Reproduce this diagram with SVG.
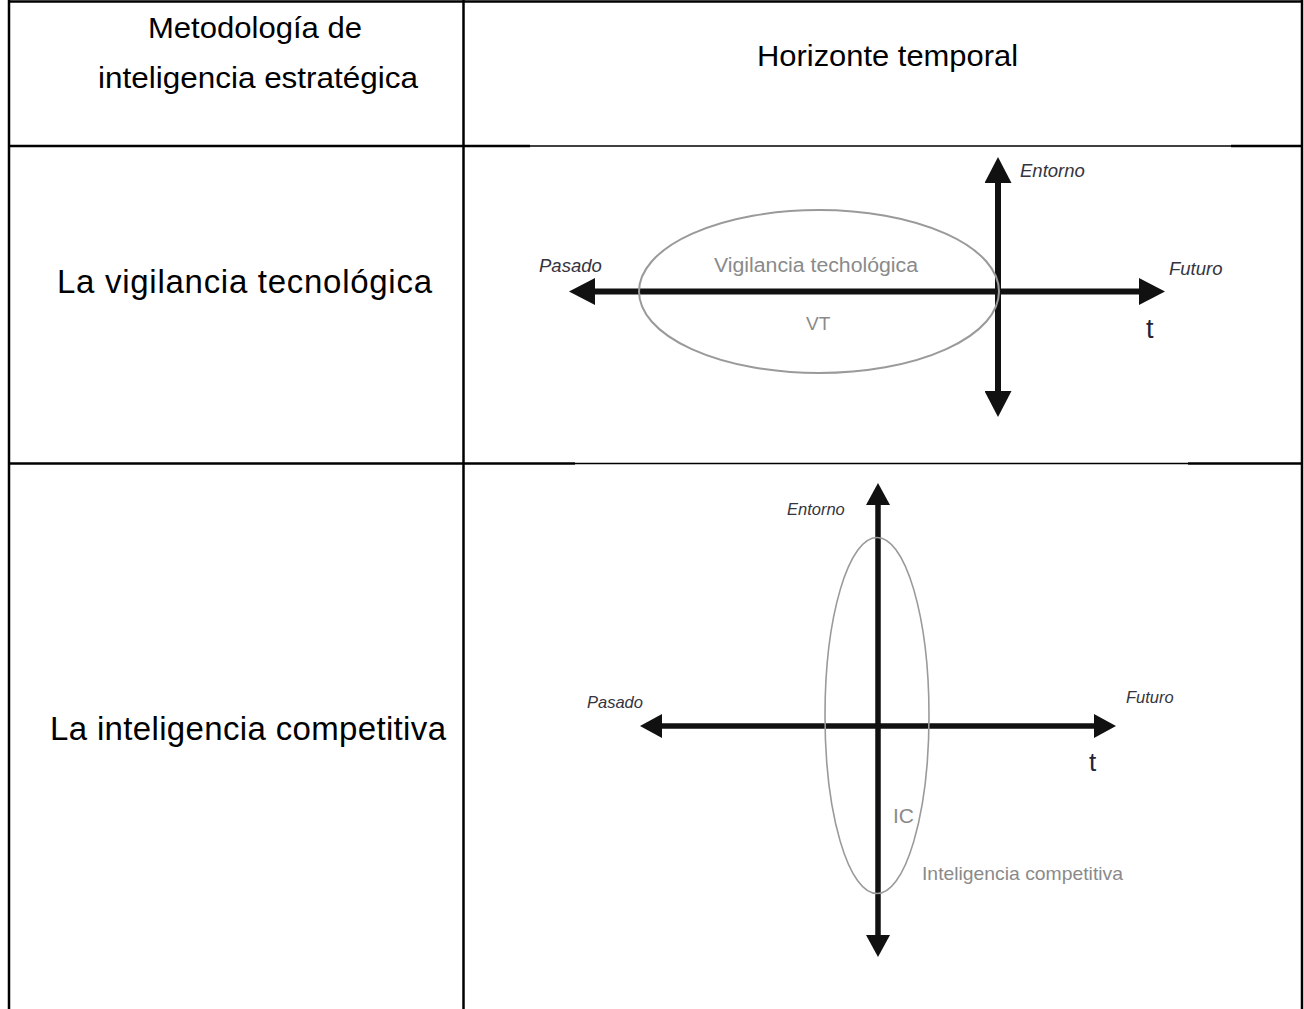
<svg xmlns="http://www.w3.org/2000/svg" width="1304" height="1009" viewBox="0 0 1304 1009">
  <style>
    .cell { font-family: "Liberation Sans", Arial, sans-serif; fill: #000; }
    .hdr { font-size: 30px; }
    .row { font-size: 33px; }
    .axislbl { font-family: "Liberation Sans", Arial, sans-serif; font-style: italic; fill: #34343e; }
    .zone { font-family: "Liberation Sans", Arial, sans-serif; fill: #8a8a8a; }
    .tlbl { font-family: "Liberation Sans", Arial, sans-serif; fill: #23233a; }
    .grid { stroke: #000; stroke-width: 2.5; fill: none; }
    .gridthin { stroke: #000; stroke-width: 1.5; fill: none; }
    .axis { stroke: #111; fill: none; }
    .zoneshape { fill: none; stroke: #9a9a9a; }
  </style>
  <defs>
    <marker id="headL" markerUnits="userSpaceOnUse" viewBox="0 0 26 27" markerWidth="26" markerHeight="27" refX="4" refY="13.5" orient="auto-start-reverse">
      <path d="M0,0 L26,13.5 L0,27 Z" fill="#111"/>
    </marker>
    <marker id="headS" markerUnits="userSpaceOnUse" viewBox="0 0 22 24" markerWidth="22" markerHeight="24" refX="4" refY="12" orient="auto-start-reverse">
      <path d="M0,0 L22,12 L0,24 Z" fill="#111"/>
    </marker>
  </defs>

  <rect width="1304" height="1009" fill="#fff"/>

  <!-- table rules -->
  <g id="table-grid">
    <line class="grid" x1="8" y1="1.5" x2="1303" y2="1.5"/>
    <line class="grid" x1="9" y1="0" x2="9" y2="1009"/>
    <line class="grid" x1="463.5" y1="0" x2="463.5" y2="1009"/>
    <line class="grid" x1="1302" y1="0" x2="1302" y2="1009"/>
    <!-- rule under the header row -->
    <line class="grid" x1="8" y1="146" x2="530" y2="146"/>
    <line class="gridthin" x1="530" y1="146" x2="1231" y2="146"/>
    <line class="grid" x1="1231" y1="146" x2="1303" y2="146"/>
    <!-- rule under the first row -->
    <line class="grid" x1="8" y1="463.5" x2="575" y2="463.5"/>
    <line class="gridthin" x1="575" y1="463.5" x2="1188" y2="463.5"/>
    <line class="grid" x1="1188" y1="463.5" x2="1303" y2="463.5"/>
  </g>

  <!-- header cells -->
  <g id="hdr-method">
    <text class="cell hdr" x="148" y="38" textLength="214" lengthAdjust="spacingAndGlyphs">Metodología de</text>
    <text class="cell hdr" x="98" y="88" textLength="320" lengthAdjust="spacingAndGlyphs">inteligencia estratégica</text>
  </g>
  <g id="hdr-horizon">
    <text class="cell hdr" x="757" y="66" textLength="261" lengthAdjust="spacingAndGlyphs">Horizonte temporal</text>
  </g>

  <!-- row labels -->
  <g id="row-vt">
    <text class="cell row" x="57" y="293" textLength="375">La vigilancia tecnológica</text>
  </g>
  <g id="row-ic">
    <text class="cell row" x="50" y="740" textLength="396">La inteligencia competitiva</text>
  </g>

  <!-- axes of both charts -->
  <g id="connectors">
    <line class="axis" stroke-width="6" x1="591" y1="291.5" x2="1143" y2="291.5" marker-start="url(#headL)" marker-end="url(#headL)"/>
    <line class="axis" stroke-width="6" x1="998" y1="179" x2="998" y2="395" marker-start="url(#headL)" marker-end="url(#headL)"/>
    <line class="axis" stroke-width="5.5" x1="658" y1="726" x2="1098" y2="726" marker-start="url(#headS)" marker-end="url(#headS)"/>
    <line class="axis" stroke-width="5.5" x1="878" y1="501" x2="878" y2="939" marker-start="url(#headS)" marker-end="url(#headS)"/>
  </g>

  <!-- chart 1: technology watch -->
  <g id="vt-zone">
    <ellipse class="zoneshape" stroke-width="2" cx="819" cy="291.5" rx="180" ry="81.5"/>
    <text class="zone" x="714" y="272" font-size="20" textLength="204" lengthAdjust="spacingAndGlyphs">Vigilancia techológica</text>
    <text class="zone" x="806" y="330" font-size="19">VT</text>
  </g>
  <g id="vt-labels">
    <text class="axislbl" x="539" y="272" font-size="18.5">Pasado</text>
    <text class="axislbl" x="1169" y="275" font-size="18.5">Futuro</text>
    <text class="axislbl" x="1020" y="177" font-size="18.5">Entorno</text>
    <text class="tlbl" x="1146" y="338" font-size="27">t</text>
  </g>

  <!-- chart 2: competitive intelligence -->
  <g id="ic-zone">
    <ellipse class="zoneshape" stroke-width="1.6" cx="877" cy="715.5" rx="52" ry="178"/>
    <text class="zone" x="893" y="823" font-size="21" fill="#7a7a7a">IC</text>
    <text class="zone" x="922" y="880" font-size="19" textLength="201" lengthAdjust="spacingAndGlyphs">Inteligencia competitiva</text>
  </g>
  <g id="ic-labels">
    <text class="axislbl" x="587" y="708" font-size="16.5">Pasado</text>
    <text class="axislbl" x="1126" y="703" font-size="16.5">Futuro</text>
    <text class="axislbl" x="787" y="515" font-size="16.5">Entorno</text>
    <text class="tlbl" x="1089" y="771" font-size="26">t</text>
  </g>
</svg>
